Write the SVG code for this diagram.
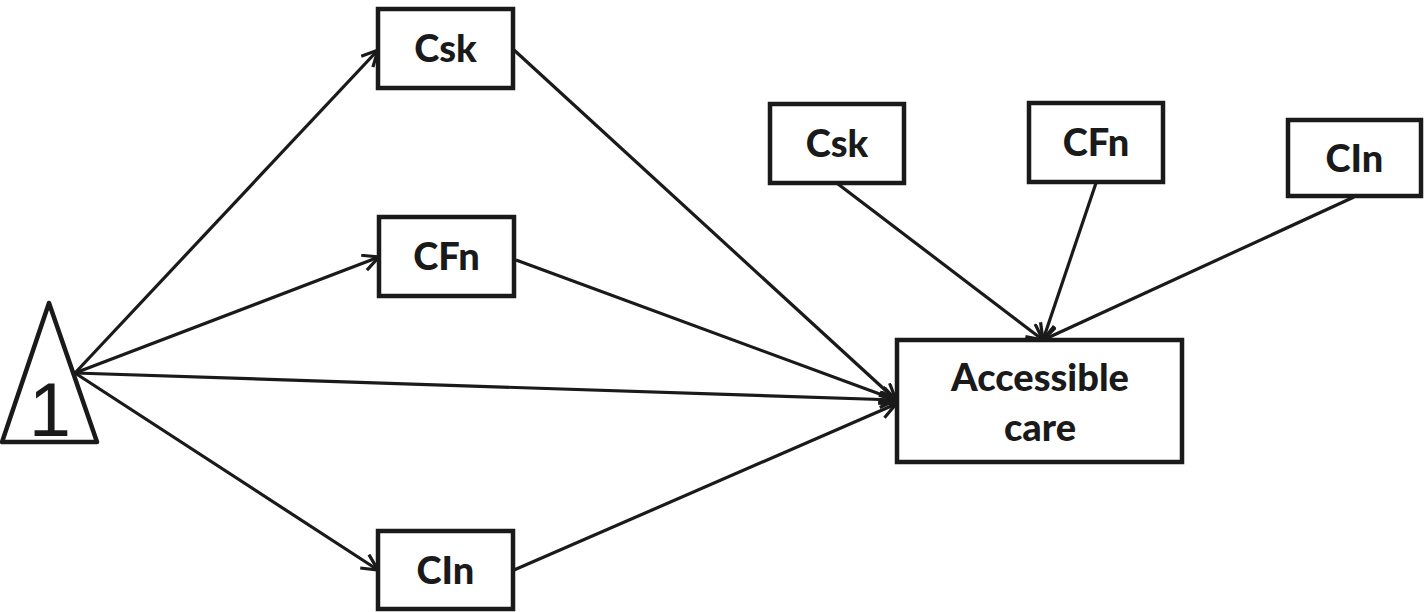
<svg xmlns="http://www.w3.org/2000/svg" width="1424" height="612" viewBox="0 0 1424 612">
<style>
.box{fill:#fff;stroke:#1a1a1a;stroke-width:4.5}
.lbl{font-family:Lato,"Liberation Sans",sans-serif;font-weight:900;font-size:38px;fill:#1a1a1a;text-anchor:middle}
.edge{stroke:#1a1a1a;stroke-width:3.2;fill:none;marker-end:url(#arr)}
</style>
<defs>
<marker id="arr" markerUnits="userSpaceOnUse" markerWidth="22" markerHeight="22" refX="17" refY="9" orient="auto">
<path d="M1,1 L17,9 L1,17" fill="none" stroke="#1a1a1a" stroke-width="3.2"/>
</marker>
</defs>
<g id="connectors">
<line class="edge" x1="75" y1="373" x2="378" y2="50"/>
<line class="edge" x1="75" y1="373" x2="379" y2="257"/>
<line class="edge" x1="75" y1="373" x2="896" y2="400"/>
<line class="edge" x1="75" y1="373" x2="378" y2="570"/>
<line class="edge" x1="514" y1="50" x2="896" y2="400"/>
<line class="edge" x1="516" y1="260" x2="896" y2="400"/>
<line class="edge" x1="514" y1="570" x2="896" y2="404"/>
<line class="edge" x1="838" y1="184" x2="1043" y2="340"/>
<line class="edge" x1="1096" y1="183" x2="1043" y2="340"/>
<line class="edge" x1="1354" y1="197" x2="1043" y2="340"/>
</g>
<g id="n1">
<polygon points="49,303 2,442 97,442" fill="#fff" stroke="#1a1a1a" stroke-width="4.5" stroke-linejoin="round"/>
<text x="50" y="436" font-family="'Liberation Sans',sans-serif" font-size="76" fill="#1a1a1a" text-anchor="middle">1</text>
</g>
<g id="csk1"><rect class="box" x="378" y="9" width="135" height="79"/><text class="lbl" x="445.5" y="62">Csk</text></g>
<g id="cfn1"><rect class="box" x="379" y="217" width="135" height="79"/><text class="lbl" x="446.5" y="270">CFn</text></g>
<g id="cin1"><rect class="box" x="378" y="531" width="135" height="78"/><text class="lbl" x="445.5" y="584">CIn</text></g>
<g id="care"><rect class="box" x="897" y="340" width="285" height="122"/><text class="lbl" x="1040" y="391">Accessible</text><text class="lbl" x="1040" y="441">care</text></g>
<g id="csk2"><rect class="box" x="770" y="104" width="134" height="79"/><text class="lbl" x="837" y="157">Csk</text></g>
<g id="cfn2"><rect class="box" x="1029" y="103" width="134" height="79"/><text class="lbl" x="1096" y="156">CFn</text></g>
<g id="cin2"><rect class="box" x="1288" y="120" width="133" height="76"/><text class="lbl" x="1354.5" y="172">CIn</text></g>
</svg>
